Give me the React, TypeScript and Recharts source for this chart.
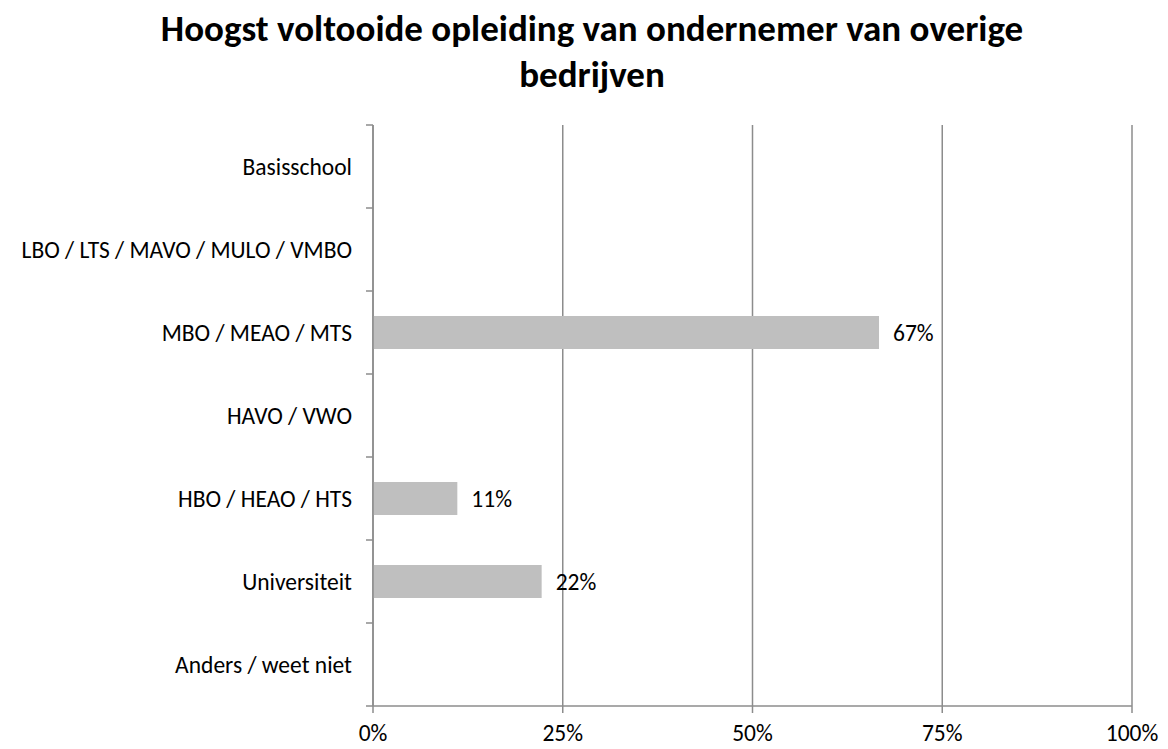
import React from 'react'
import { BarChart, Bar, XAxis, YAxis, CartesianGrid, LabelList } from 'recharts'

const categories = [
  'Basisschool',
  'LBO / LTS / MAVO / MULO / VMBO',
  'MBO / MEAO / MTS',
  'HAVO / VWO',
  'HBO / HEAO / HTS',
  'Universiteit',
  'Anders / weet niet',
]
const shares = [0, 0, 66.67, 0, 11.11, 22.22, 0]
const xTicks = [0, 25, 50, 75, 100]

const data = categories.map((name, i) => ({ name, value: shares[i] }))

const FONT = 'Carlito, Lato, "Liberation Sans", sans-serif'
const GRID = '#8c8c8c'
const LABEL = 23.5
const W = 1168
const H = 749
const TOP = 125
const XH = 43
const GAP = 21
const band = (H - TOP - XH) / categories.length

// category label plus an Excel-style tick mark on the band boundary
function CategoryTick(props: any) {
  const { x, y, payload, index } = props
  const ax = x + GAP
  return (
    <g>
      <text x={x} y={y} dy="0.355em" textAnchor="end" fill="#000" fontSize={LABEL} fontFamily={FONT}>
        {payload.value}
      </text>
      <line x1={ax - 7} x2={ax} y1={y - band / 2} y2={y - band / 2} stroke={GRID} strokeWidth={1.5} />
      {index === categories.length - 1 && (
        <line x1={ax - 7} x2={ax} y1={y + band / 2} y2={y + band / 2} stroke={GRID} strokeWidth={1.5} />
      )}
    </g>
  )
}

export default function App() {
  return (
    <div style={{ position: 'absolute', left: 0, top: 0, width: W, height: H, background: '#fff', fontFamily: FONT }}>
      <BarChart
        width={W}
        height={H}
        data={data}
        layout="vertical"
        margin={{ top: TOP, right: 36, bottom: 0, left: 0 }}
        barSize={33}
      >
        <CartesianGrid horizontal={false} stroke={GRID} strokeWidth={1.5} />
        <XAxis
          type="number"
          domain={[0, 100]}
          ticks={xTicks}
          tickFormatter={(v) => `${v}%`}
          height={XH}
          tickSize={7}
          tickMargin={11}
          axisLine={{ stroke: GRID, strokeWidth: 1.5 }}
          tickLine={{ stroke: GRID, strokeWidth: 1.5 }}
          tick={{ fill: '#000', fontSize: LABEL, fontFamily: FONT }}
        />
        <YAxis
          type="category"
          dataKey="name"
          width={373}
          tickSize={0}
          tickMargin={GAP}
          interval={0}
          axisLine={{ stroke: GRID, strokeWidth: 1.5 }}
          tickLine={false}
          tick={<CategoryTick />}
        />
        <Bar dataKey="value" fill="#bfbfbf" isAnimationActive={false}>
          <LabelList
            dataKey="value"
            position="right"
            offset={14}
            formatter={(v: any) => (Number(v) > 0 ? `${Math.round(Number(v))}%` : '')}
            style={{ fill: '#000', fontSize: LABEL, fontFamily: FONT }}
          />
        </Bar>
      </BarChart>
      <div style={{ position: 'absolute', left: 92, top: 6, width: 1000, textAlign: 'center', fontWeight: 700, fontSize: 37, lineHeight: '46px', color: '#000' }}>
        Hoogst voltooide opleiding van ondernemer van overige
        <br />
        bedrijven
      </div>
    </div>
  )
}
